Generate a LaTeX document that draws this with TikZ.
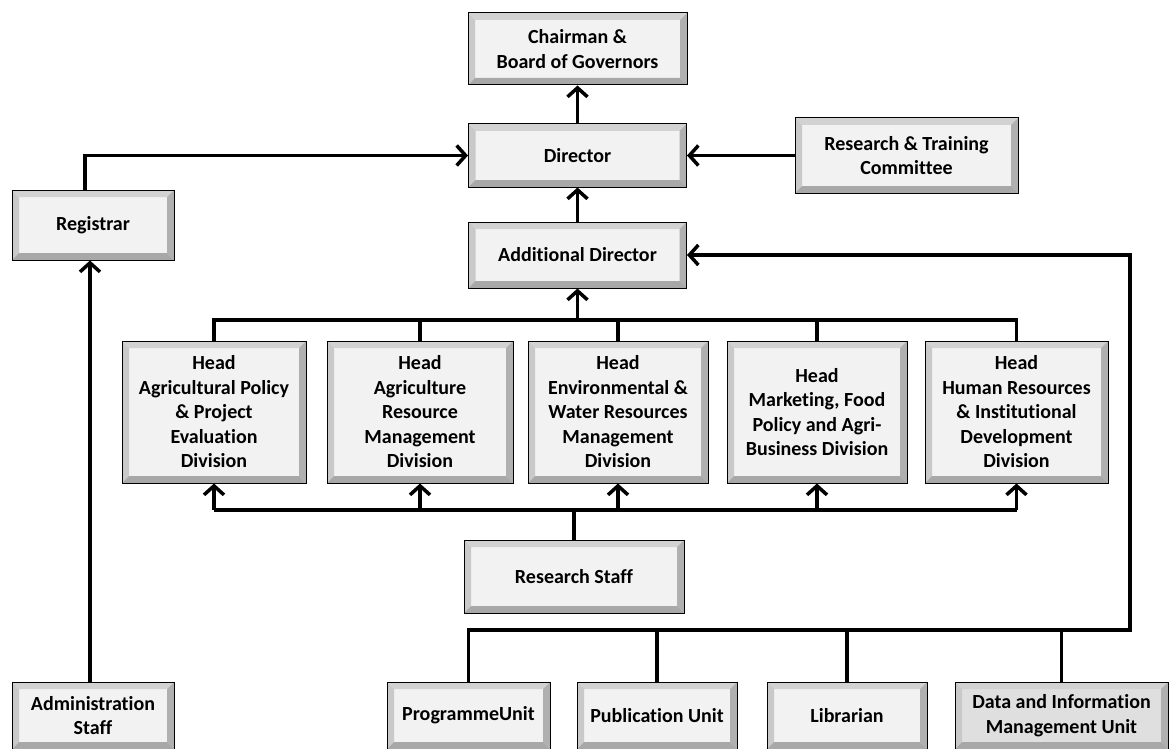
\documentclass[tikz,border=0pt]{standalone}
\usepackage{fontspec}
\newfontfamily\boxfont[Ligatures=NoCommon]{Carlito}
\usetikzlibrary{arrows.meta}
\def\bv{7pt}
\tikzset{
  box/.style={rectangle, draw=black, line width=1pt, fill=gray!10, inner sep=0pt, align=center,
    font={\boxfont\bfseries\fontsize{20}{24.5}\selectfont},
    path picture={
      \fill[gray!35] (path picture bounding box.north west) -- (path picture bounding box.north east)
        -- ([xshift=-\bv,yshift=-\bv]path picture bounding box.north east) -- ([xshift=\bv,yshift=-\bv]path picture bounding box.north west) -- cycle;
      \fill[gray!42] (path picture bounding box.north west) -- (path picture bounding box.south west)
        -- ([xshift=\bv,yshift=\bv]path picture bounding box.south west) -- ([xshift=\bv,yshift=-\bv]path picture bounding box.north west) -- cycle;
      \fill[gray!62] (path picture bounding box.north east) -- (path picture bounding box.south east)
        -- ([xshift=-\bv,yshift=\bv]path picture bounding box.south east) -- ([xshift=-\bv,yshift=-\bv]path picture bounding box.north east) -- cycle;
      \fill[gray!68] (path picture bounding box.south west) -- (path picture bounding box.south east)
        -- ([xshift=-\bv,yshift=\bv]path picture bounding box.south east) -- ([xshift=\bv,yshift=\bv]path picture bounding box.south west) -- cycle;
    }},
  conn/.style={line width=3.5pt, line join=miter},
  arr/.style={conn, -{Straight Barb[length=9pt,width=20pt]}}
}
\begin{document}
\begin{tikzpicture}[x=1pt,y=-1pt]
\useasboundingbox (0,0) rectangle (1170,749);
% top
\node[box, minimum width=219pt, minimum height=72pt] (chair) at (577.5,49) {Chairman \&\\Board of Governors};
\node[box, minimum width=218pt, minimum height=63pt] (dir) at (577.5,155.5) {Director};
\node[box, minimum width=223pt, minimum height=75pt] (rtc) at (906.5,155.5) {Research \& Training\\Committee};
\node[box, minimum width=162pt, minimum height=70pt] (reg) at (93,225) {Registrar};
\node[box, minimum width=218pt, minimum height=66pt] (addl) at (577.5,255) {Additional Director};
% heads
\node[box, minimum width=184pt, minimum height=142pt] (h1) at (214,412) {Head\\Agricultural Policy\\\& Project\\Evaluation\\Division};
\node[box, minimum width=186pt, minimum height=142pt] (h2) at (420,412) {Head\\Agriculture\\Resource\\Management\\Division};
\node[box, minimum width=180pt, minimum height=142pt] (h3) at (618,412) {Head\\Environmental \&\\Water Resources\\Management\\Division};
\node[box, minimum width=180pt, minimum height=142pt] (h4) at (817,412) {Head\\Marketing, Food\\Policy and Agri-\\Business Division};
\node[box, minimum width=183pt, minimum height=142pt] (h5) at (1016.5,412) {Head\\Human Resources\\\& Institutional\\Development\\Division};
% research staff
\node[box, minimum width=220pt, minimum height=73pt] (rs) at (574,576.5) {Research Staff};
% bottom row
\node[box, minimum width=163pt, minimum height=67pt] (prog) at (468.5,715.5) {ProgrammeUnit};
\node[box, minimum width=160pt, minimum height=67pt] (pub) at (657,715.5) {Publication Unit};
\node[box, minimum width=160pt, minimum height=67pt] (lib) at (847,715.5) {Librarian};
\node[box, fill=gray!25, minimum width=213pt, minimum height=67pt] (dimu) at (1061.5,715.5) {Data and Information\\Management Unit};
\node[box, minimum width=162pt, minimum height=67pt] (adm) at (93,715.5) {Administration\\Staff};
% helper coordinates
\coordinate (tb) at (0,320);
\coordinate (lb) at (0,510);
\coordinate (bb) at (0,630);
\coordinate (rx) at (1130,0);
% connectors top
\draw[arr] (dir.north) -- (chair.south);
\draw[arr] (addl.north) -- (dir.south);
\draw[arr] (rtc.west) -- (dir.east);
\draw[arr] ([xshift=-8pt]reg.north) |- (dir.west);
\draw[arr] ([xshift=-3pt]adm.north) -- ([xshift=-3pt]reg.south);
% head bus
\draw[conn] (h1.north) -- (h1.north |- tb) -- (h5.north |- tb) -- (h5.north);
\draw[conn] (h2.north) -- (h2.north |- tb);
\draw[conn] (h3.north) -- (h3.north |- tb);
\draw[conn] (h4.north) -- (h4.north |- tb);
\draw[arr] (addl.south |- tb) -- (addl.south);
% lower bus
\draw[conn] (h1.south |- lb) -- (h5.south |- lb);
\draw[conn] (rs.north) -- (rs.north |- lb);
\draw[arr] (h1.south |- lb) -- (h1.south);
\draw[arr] (h2.south |- lb) -- (h2.south);
\draw[arr] (h3.south |- lb) -- (h3.south);
\draw[arr] (h4.south |- lb) -- (h4.south);
\draw[arr] (h5.south |- lb) -- (h5.south);
% bottom bus
\draw[arr] (prog.north) -- (prog.north |- bb) -- (rx |- bb) -- (rx |- addl.east) -- (addl.east);
\draw[conn] (pub.north) -- (pub.north |- bb);
\draw[conn] (lib.north) -- (lib.north |- bb);
\draw[conn] (dimu.north) -- (dimu.north |- bb);
\end{tikzpicture}
\end{document}
